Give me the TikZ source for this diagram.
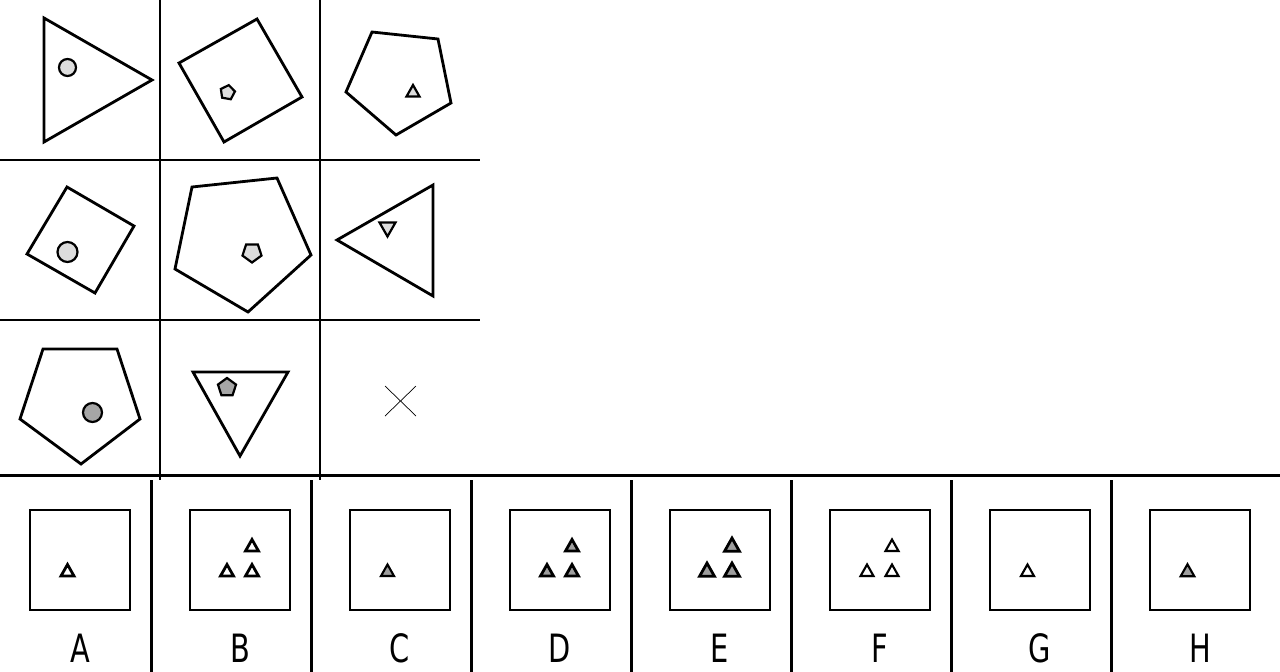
\documentclass[tikz,border=0pt]{standalone}
\usepackage{fontspec}
\setmainfont{DejaVu Sans}
\usetikzlibrary{shapes.geometric}
\definecolor{lg}{HTML}{DDDDDD}
\definecolor{mg}{HTML}{A6A6A6}
\definecolor{ag}{HTML}{9E9E9E}
\newcommand{\atri}[4]{\draw[#3] ({#1},{#2-6*#4}) -- ({#1+6.5*#4},{#2+5.5*#4}) -- ({#1-6.5*#4},{#2+5.5*#4}) -- cycle;}
\begin{document}
\begin{tikzpicture}[x=1pt,y=-1pt,
  big/.style={draw=black,line width=2.8pt,line join=miter},
  small/.style={draw=black,line width=2.2pt,inner sep=0pt,outer sep=0pt},
  gridline/.style={line width=2.6pt},
  sepline/.style={line width=3pt},
  abox/.style={draw=black,line width=2.6pt},
  lbl/.style={font=\fontsize{39}{41}\selectfont,xscale=0.74,inner sep=0pt},
  thk/.style={draw=black,line width=2.8pt,fill=#1},
  thn/.style={draw=black,line width=2.1pt,fill=#1}]
\useasboundingbox (0,0) rectangle (1280,672);
\fill[white] (0,0) rectangle (1280,672);
% grid
\draw[gridline] (160,0) -- (160,480);
\draw[gridline] (320,0) -- (320,480);
\draw[gridline] (0,160) -- (480,160);
\draw[gridline] (0,320) -- (480,320);
\draw[sepline] (0,475) -- (1280,475);
% row 1
\draw[big] (44,18) -- (152,80) -- (44,142) -- cycle;
\node[small,circle,minimum size=17pt,fill=lg] (c11) at (67.5,67.5) {};
\draw[big] (179,63) -- (257,19) -- (302,97) -- (224,142) -- cycle;
\node[small,regular polygon,regular polygon sides=5,minimum size=15pt,fill=lg,rotate=-10] (c12) at (227.5,92.5) {};
\draw[big] (372,32) -- (438,39) -- (451,103) -- (396,135) -- (346,92) -- cycle;
\draw[small,fill=lg] (413,85) -- (419.5,96.5) -- (406.5,96.5) -- cycle;
% row 2
\draw[big] (67,187) -- (134,226) -- (95,293) -- (27,254) -- cycle;
\node[small,circle,minimum size=20pt,fill=lg] (c21) at (67.5,252) {};
\draw[big] (192,187) -- (277,178) -- (311,255) -- (248,312) -- (175,269) -- cycle;
\node[small,regular polygon,regular polygon sides=5,minimum size=20pt,fill=lg,rotate=180] (c22) at (252,252.5) {};
\draw[big] (337,240) -- (433,185) -- (433,296) -- cycle;
\draw[small,fill=lg] (379.5,222.5) -- (395.5,222.5) -- (387.5,236.5) -- cycle;
% row 3
\draw[big] (43,349) -- (117,349) -- (140,419) -- (81,464) -- (20,419) -- cycle;
\node[small,circle,minimum size=19pt,fill=mg] (c31) at (92.5,412.5) {};
\draw[big] (193,372) -- (288,372) -- (240,456) -- cycle;
\node[small,regular polygon,regular polygon sides=5,minimum size=19pt,fill=mg] (c32) at (227,387.5) {};
\draw[line width=0.7pt] (385,386) -- (416,416);
\draw[line width=0.7pt] (385,416) -- (416,386);
% answers
\foreach \i/\L in {0/A,1/B,2/C,3/D,4/E,5/F,6/G,7/H}{
  \draw[abox] ({30+160*\i},510) rectangle ({130+160*\i},610);
  \node[lbl] (lab\L) at ({80+160*\i},648) {\L};
}
\foreach \i in {1,...,7}{
  \draw[sepline] ({151+160*\i-160},480) -- ({151+160*\i-160},672);
}
% A
\atri{67.5}{570.5}{thk=white}{1}
% B
\atri{227}{570.5}{thk=white}{1}
\atri{252}{570.5}{thk=white}{1}
\atri{252}{545.5}{thk=white}{1}
% C
\atri{387.5}{570.5}{thn=ag}{1}
% D
\atri{547}{570.5}{thk=ag}{1}
\atri{572}{570.5}{thk=ag}{1}
\atri{572}{545.5}{thk=ag}{1}
% E
\atri{707}{570}{thk=ag}{1.15}
\atri{732}{570}{thk=ag}{1.15}
\atri{732}{545}{thk=ag}{1.15}
% F
\atri{867}{570.5}{thn=white}{1}
\atri{892}{570.5}{thn=white}{1}
\atri{892}{545.5}{thn=white}{1}
% G
\atri{1027.5}{570.5}{thn=white}{1}
% H
\atri{1187.5}{570.5}{thn=ag}{1.05}
\end{tikzpicture}
\end{document}
